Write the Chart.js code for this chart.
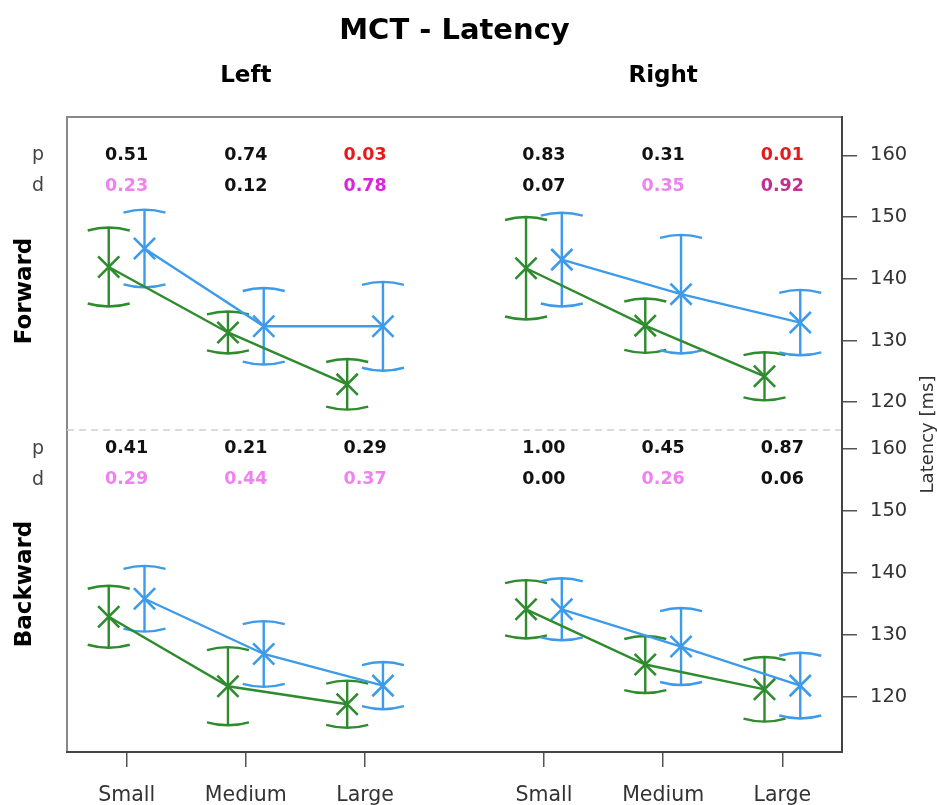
<!DOCTYPE html>
<html>
<head>
<meta charset="utf-8">
<script src="https://cdn.jsdelivr.net/npm/chart.js@4.4.1/dist/chart.umd.min.js"></script>
<style>
body { margin: 0; background: #fff; }
#wrap { width: 937px; height: 805px; }
</style>
</head>
<body>
<div id="wrap"><canvas id="chart1" width="937" height="805"></canvas></div>
<script>
var categories = ["Small", "Medium", "Large"];
var sides = ["Left", "Right"];
var rows = ["Forward", "Backward"];
var yTicks = [120, 130, 140, 150, 160];

// mean and half-width of the bars, Left Small..Large then Right Small..Large
var fwdGreen    = [141.9, 131.3, 122.9, 141.7, 132.4, 124.2];
var fwdGreenErr = [6.4, 3.4, 4.1, 8.3, 4.4, 3.9];
var fwdBlue     = [144.9, 132.3, 132.3, 143.1, 137.5, 132.9];
var fwdBlueErr  = [6.3, 6.2, 7.2, 7.6, 9.6, 5.3];
var bwdGreen    = [132.9, 121.7, 118.8, 134.1, 125.2, 121.2];
var bwdGreenErr = [5.0, 6.3, 3.8, 4.7, 4.6, 5.2];
var bwdBlue     = [135.8, 126.9, 121.8, 134.1, 128.1, 121.8];
var bwdBlueErr  = [5.3, 5.3, 3.8, 5.0, 6.2, 5.3];

// p values and effect sizes
var fwdP = [0.51, 0.74, 0.03, 0.83, 0.31, 0.01];
var fwdD = [0.23, 0.12, 0.78, 0.07, 0.35, 0.92];
var bwdP = [0.41, 0.21, 0.29, 1.00, 0.45, 0.87];
var bwdD = [0.29, 0.44, 0.37, 0.00, 0.26, 0.06];

var green = '#2e8b2e',
    blue = '#3d9be9',
    font = '"DejaVu Sans", sans-serif';

// x position of each category, right panel shifted by 3.5
var tickPos = [], xLabels = [];
sides.forEach(function(s, k) {
	categories.forEach(function(c, i) {
		tickPos.push(k * 3.5 + i + 1);
		xLabels.push(c);
	});
});

var makeSet = function(vals, errs, yID, side, color, dodge) {
	var pts = [], e = [];
	for (var i = 0; i < 3; i++) {
		pts.push({ x: tickPos[side * 3 + i] + dodge, y: vals[side * 3 + i] });
		e.push(errs[side * 3 + i]);
	}
	return {
		data: pts,
		errors: e,
		yAxisID: yID,
		xAxisID: 'x',
		borderColor: color,
		borderWidth: 2.4,
		pointStyle: 'crossRot',
		pointRadius: 15,
		pointBorderWidth: 2.6,
		pointBorderColor: color,
		showLine: true,
		fill: false
	};
};

var datasets = [];
[0, 1].forEach(function(side) {
	datasets.push(makeSet(fwdGreen, fwdGreenErr, 'yF', side, green, -0.15));
	datasets.push(makeSet(fwdBlue, fwdBlueErr, 'yF', side, blue, 0.15));
	datasets.push(makeSet(bwdGreen, bwdGreenErr, 'yB', side, green, -0.15));
	datasets.push(makeSet(bwdBlue, bwdBlueErr, 'yB', side, blue, 0.15));
});

var pColor = function(p) { return p < 0.05 ? '#e8191c' : '#111'; };
var dColor = function(d) {
	if (d < 0.2) return '#111';
	if (d < 0.5) return '#ee82ee';
	if (d < 0.8) return '#dd22dd';
	return '#c0308f';
};

// frame, error bars and all the texts
var decor = {
	id: 'decor',
	beforeDraw: function(chart) {
		var ctx = chart.ctx, ca = chart.chartArea;
		ctx.save();
		ctx.strokeStyle = '#888';
		ctx.lineWidth = 2;
		ctx.strokeRect(ca.left, ca.top, ca.right - ca.left, ca.bottom - ca.top);
		var yb = chart.scales.yF.bottom;
		ctx.strokeStyle = '#cfcfcf';
		ctx.lineWidth = 1.5;
		ctx.setLineDash([7, 5]);
		ctx.beginPath();
		ctx.moveTo(ca.left, yb);
		ctx.lineTo(ca.right, yb);
		ctx.stroke();
		ctx.restore();
	},
	beforeDatasetsDraw: function(chart) {
		var ctx = chart.ctx;
		ctx.save();
		ctx.lineWidth = 2.4;
		chart.data.datasets.forEach(function(ds, i) {
			var meta = chart.getDatasetMeta(i),
				ys = chart.scales[ds.yAxisID];
			ctx.strokeStyle = ds.borderColor;
			meta.data.forEach(function(pt, j) {
				var v = ds.data[j].y, e = ds.errors[j],
					x = pt.x,
					top = ys.getPixelForValue(v + e),
					bot = ys.getPixelForValue(v - e),
					w = 21;
				ctx.beginPath();
				ctx.moveTo(x, top);
				ctx.lineTo(x, bot);
				ctx.moveTo(x - w, top + 3);
				ctx.quadraticCurveTo(x, top - 3, x + w, top + 3);
				ctx.moveTo(x - w, bot - 3);
				ctx.quadraticCurveTo(x, bot + 3, x + w, bot - 3);
				ctx.stroke();
			});
		});
		ctx.restore();
	},
	afterDraw: function(chart) {
		var ctx = chart.ctx, ca = chart.chartArea,
			xs = chart.scales.x;
		ctx.save();
		ctx.fillStyle = '#000';
		ctx.textAlign = 'center';
		ctx.textBaseline = 'alphabetic';
		ctx.font = 'bold 29px ' + font;
		ctx.fillText('MCT - Latency', (ca.left + ca.right) / 2, 39);
		ctx.font = 'bold 23px ' + font;
		sides.forEach(function(s, k) {
			ctx.fillText(s, xs.getPixelForValue(tickPos[k * 3 + 1]), 82);
		});

		// row titles
		ctx.font = 'bold 23px ' + font;
		ctx.textBaseline = 'middle';
		[[rows[0], 291], [rows[1], 584]].forEach(function(r) {
			ctx.save();
			ctx.translate(25, r[1]);
			ctx.rotate(-Math.PI / 2);
			ctx.fillText(r[0], 0, 0);
			ctx.restore();
		});

		// axis title
		ctx.save();
		ctx.fillStyle = '#333';
		ctx.font = '18px ' + font;
		ctx.translate(928, (ca.top + ca.bottom) / 2);
		ctx.rotate(-Math.PI / 2);
		ctx.fillText('Latency [ms]', 0, 0);
		ctx.restore();

		// p and d rows
		[[chart.scales.yF, fwdP, fwdD], [chart.scales.yB, bwdP, bwdD]].forEach(function(r) {
			var yp = r[0].getPixelForValue(160),
				yd = r[0].getPixelForValue(155);
			ctx.font = '19px ' + font;
			ctx.fillStyle = '#444';
			ctx.fillText('p', 38, yp);
			ctx.fillText('d', 38, yd);
			ctx.font = 'bold 17.5px ' + font;
			for (var i = 0; i < tickPos.length; i++) {
				var x = xs.getPixelForValue(tickPos[i]);
				ctx.fillStyle = pColor(r[1][i]);
				ctx.fillText(r[1][i].toFixed(2), x, yp);
				ctx.fillStyle = dColor(r[2][i]);
				ctx.fillText(r[2][i].toFixed(2), x, yd);
			}
		});
		ctx.restore();
	}
};

var yAxis = function(weight, mn, mx) {
	return {
		type: 'linear',
		position: 'right',
		stack: 'rows',
		stackWeight: weight,
		min: mn,
		max: mx,
		afterBuildTicks: function(s) { s.ticks = yTicks.map(function(v) { return { value: v }; }); },
		afterFit: function(s) { s.width = 95; },
		grid: { drawOnChartArea: false, drawTicks: true, tickLength: 15, color: '#555', lineWidth: 1.5 },
		border: { display: true, color: '#444', width: 2 },
		ticks: { color: '#333', font: { family: 'DejaVu Sans', size: 19.5 }, padding: 13 }
	};
};

var ctx = document.getElementById('chart1').getContext('2d');
var chart = new Chart(ctx, {
	type: 'line',
	data: { datasets: datasets },
	options: {
		responsive: false,
		animation: false,
		layout: { padding: { left: 67, top: 117, right: 0, bottom: 0 } },
		plugins: { legend: { display: false }, tooltip: { enabled: false } },
		scales: {
			x: {
				type: 'linear',
				position: 'bottom',
				min: 0.5,
				max: 7,
				afterBuildTicks: function(s) { s.ticks = tickPos.map(function(v) { return { value: v }; }); },
				afterFit: function(s) { s.height = 53; },
				grid: { drawOnChartArea: false, drawTicks: true, tickLength: 15, color: '#555', lineWidth: 1.5 },
				border: { display: true, color: '#444', width: 2 },
				ticks: {
					color: '#333',
					font: { family: 'DejaVu Sans', size: 20.5 },
					padding: 16,
					maxRotation: 0,
					autoSkip: false,
					callback: function(v, i) { return xLabels[i]; }
				}
			},
			yF: yAxis(313, 115.5, 166.2),
			yB: yAxis(322, 111.1, 163.0)
		}
	},
	plugins: [decor]
});
</script>
</body>
</html>
